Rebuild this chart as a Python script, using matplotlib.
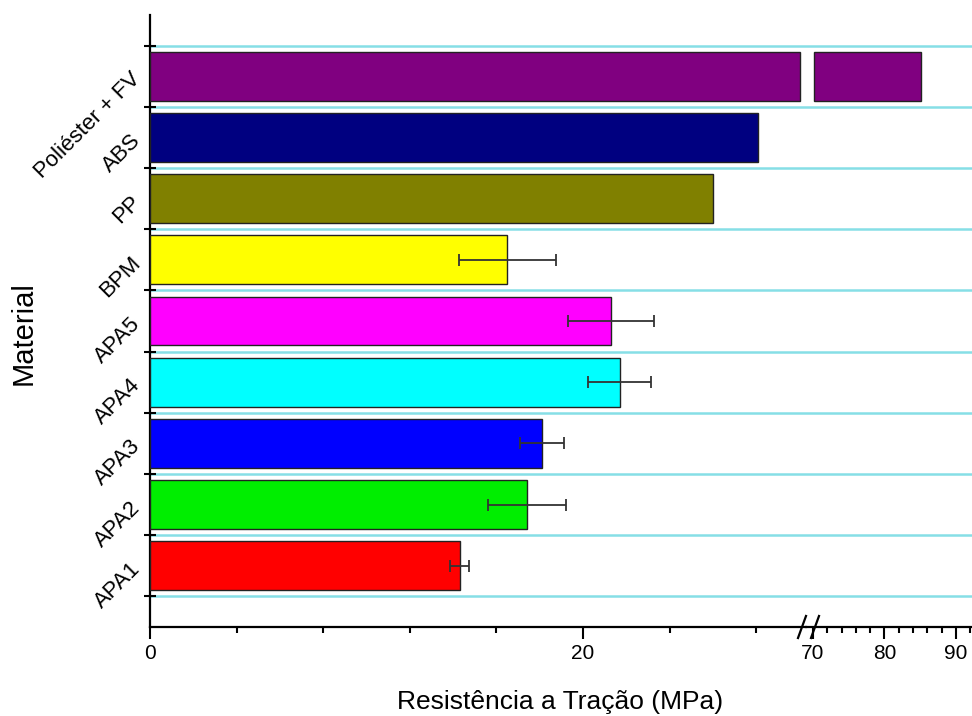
import numpy as np
import matplotlib
matplotlib.use("Agg")
import matplotlib.pyplot as plt
from matplotlib.lines import Line2D
from matplotlib.ticker import MultipleLocator

plt.rcParams['font.family'] = ['Liberation Sans', 'DejaVu Sans']

materials = ['APA1', 'APA2', 'APA3', 'APA4', 'APA5', 'BPM', 'PP', 'ABS', 'Poliéster + FV']
strength = [14.3, 17.4, 18.1, 21.7, 21.3, 16.5, 26.0, 28.1, 85.1]  # MPa
strength_err = [0.45, 1.8, 1.0, 1.45, 2.0, 2.25, 0.0, 0.0, 0.0]
colors = ['#ff0000', '#00ee00', '#0000ff', '#00ffff', '#ff00ff',
          '#ffff00', '#808000', '#000080', '#800080']

# axis break: left panel 0..30.3, right panel 69..92.3
left_lim = (0, 30.3)
right_lim = (69.02, 92.25)
break_lo, break_hi = 30.0, 70.15

grid_color = '#86dfe6'
W, H = 972, 716

fig = plt.figure(figsize=(W / 100, H / 100), dpi=100)
ax1 = fig.add_axes([150 / W, 1 - 627 / H, 656 / W, 612 / H])
ax2 = fig.add_axes([806 / W, 1 - 627 / H, 166 / W, 612 / H])

y = np.arange(1, len(materials) + 1)
bar_kw = dict(height=0.8, edgecolor='#222222', linewidth=1.0, zorder=3)
err_kw = dict(ecolor='#333333', elinewidth=1.3, capsize=4, capthick=1.3, zorder=4)

# left panel: all bars, cut at the break
left_w = [min(v, break_lo) for v in strength]
ax1.barh(y, left_w, color=colors, **bar_kw)
has_err = [i for i, e in enumerate(strength_err) if e > 0]
ax1.errorbar([strength[i] for i in has_err], y[has_err],
             xerr=[strength_err[i] for i in has_err], fmt='none', **err_kw)

# right panel: remainder of bars past the break
for yi, v, c in zip(y, strength, colors):
    if v > break_hi:
        ax2.barh(yi, v - break_hi, left=break_hi, color=c, **bar_kw)

for ax, lim in ((ax1, left_lim), (ax2, right_lim)):
    ax.set_xlim(*lim)
    ax.set_ylim(0, 10)
    ax.set_yticks(np.arange(0.5, 10, 1))
    ax.yaxis.grid(True, which='major', color=grid_color, linewidth=1.8, zorder=1)
    ax.spines['top'].set_visible(False)
    ax.spines['right'].set_visible(False)
    ax.spines['bottom'].set_linewidth(1.6)
    ax.patch.set_alpha(0)
    ax.tick_params(axis='x', which='major', direction='out', length=8.5, width=1.5,
                   labelsize=15, pad=4)
    ax.tick_params(axis='x', which='minor', direction='out', length=4.5, width=1.5)

ax1.spines['left'].set_linewidth(1.6)
ax1.xaxis.set_major_locator(MultipleLocator(20))
ax1.xaxis.set_minor_locator(MultipleLocator(4))
ax1.set_yticks(y, minor=True)
ax1.set_yticklabels(materials, minor=True, rotation=45, ha='right', va='center',
                    rotation_mode='anchor', fontsize=16)
ax1.tick_params(axis='y', which='major', direction='inout', length=8.5, width=1.5,
                labelleft=False)
ax1.tick_params(axis='y', which='minor', length=0, pad=9)

ax2.spines['left'].set_visible(False)
ax2.tick_params(axis='y', which='both', length=0, labelleft=False)
ax2.set_xticks([70, 80, 90])
ax2.xaxis.set_minor_locator(MultipleLocator(2))

# break marks on the x axis
for xc in (802, 815):
    fig.add_artist(Line2D([(xc - 4) / W, (xc + 4) / W], [1 - 638 / H, 1 - 616 / H],
                          color='black', linewidth=1.6))

fig.text(560 / W, 1 - 702 / H, 'Resistência a Tração (MPa)', ha='center', va='center',
         fontsize=19)
fig.text(24 / W, 1 - 333 / H, 'Material', ha='center', va='center', rotation=90,
         fontsize=21)

fig.savefig('out.png', dpi=100)
